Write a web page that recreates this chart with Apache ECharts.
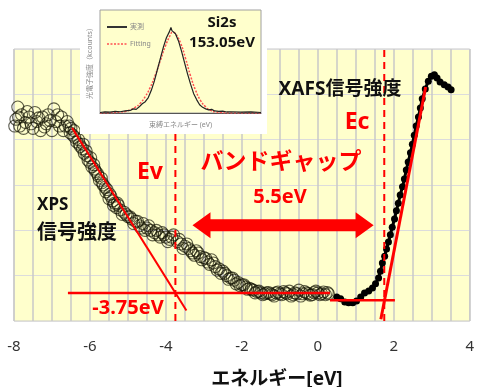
<!DOCTYPE html>
<html>
<head>
<meta charset="utf-8">
<script src="https://cdn.jsdelivr.net/npm/echarts@6/dist/echarts.min.js"></script>
<style>
  html, body { margin: 0; padding: 0; background: #fff; }
  #chart { width: 477px; height: 387px; }
</style>
</head>
<body>
<div id="chart"></div>
<script>
// 主グラフ: XPS (白抜き丸) と XAFS (黒丸)
const xpsPoints = [
  [-7.95, 4.45], [-7.9, 4.72], [-7.85, 4.3], [-7.8, 4.55], [-7.7, 4.38], [-7.6, 4.5],
  [-7.5, 4.25], [-7.45, 4.6], [-7.4, 4.4], [-7.3, 4.2], [-7.25, 4.5], [-7.15, 4.35],
  [-7.1, 4.55], [-7.0, 4.2], [-6.95, 4.68], [-6.9, 4.4], [-6.8, 4.3], [-6.75, 4.5],
  [-6.7, 4.2], [-6.6, 4.4], [-6.55, 4.3], [-6.5, 4.25], [-6.45, 4.1], [-6.4, 4.05],
  [-6.35, 3.95], [-6.3, 4.0], [-6.25, 3.85], [-6.2, 3.8], [-6.15, 3.7], [-6.1, 3.75],
  [-6.05, 3.55], [-6.0, 3.5], [-5.95, 3.4], [-5.9, 3.45], [-5.85, 3.3], [-5.8, 3.25],
  [-5.75, 3.1], [-5.7, 3.15], [-5.65, 3.0], [-5.6, 2.95], [-5.55, 2.9], [-5.5, 2.7],
  [-5.45, 2.75], [-5.4, 2.65], [-5.35, 2.6], [-5.3, 2.5], [-5.25, 2.55], [-5.2, 2.45],
  [-5.1, 2.4], [-5.05, 2.35], [-5.0, 2.3], [-4.9, 2.25], [-4.85, 2.15], [-4.8, 2.2],
  [-4.7, 2.1], [-4.6, 2.15], [-4.55, 2.0], [-4.5, 2.05], [-4.4, 2.0], [-4.3, 1.95],
  [-4.2, 1.9], [-4.1, 1.95], [-4.0, 1.85], [-3.9, 1.8], [-3.8, 1.9], [-3.7, 1.75],
  [-3.6, 1.7], [-3.5, 1.65], [-3.4, 1.6], [-3.3, 1.5], [-3.2, 1.55], [-3.1, 1.42],
  [-3.0, 1.4], [-2.9, 1.3], [-2.8, 1.35], [-2.7, 1.2], [-2.6, 1.15], [-2.5, 1.1],
  [-2.4, 1.0], [-2.3, 0.95], [-2.2, 0.9], [-2.1, 0.85], [-2.0, 0.8], [-1.9, 0.75],
  [-1.8, 0.72], [-1.7, 0.68], [-1.6, 0.65], [-1.5, 0.62], [-1.4, 0.6], [-1.3, 0.63],
  [-1.2, 0.58], [-1.1, 0.62], [-1.0, 0.6], [-0.9, 0.65], [-0.8, 0.6], [-0.7, 0.55],
  [-0.6, 0.62], [-0.5, 0.68], [-0.4, 0.6], [-0.3, 0.62], [-0.2, 0.57], [-0.1, 0.63],
  [0.0, 0.62], [0.1, 0.6], [0.2, 0.58], [0.25, 0.63],
  [-7.98, 4.3], [-7.88, 4.5], [-7.75, 4.25], [-7.65, 4.62], [-7.55, 4.35], [-7.35, 4.48],
  [-7.2, 4.28], [-7.05, 4.42], [-6.85, 4.55], [-6.65, 4.3], [-6.52, 4.15], [-6.42, 4.2],
  [-6.28, 3.9], [-6.18, 3.9], [-6.08, 3.65], [-5.98, 3.6], [-5.88, 3.35], [-5.78, 3.2],
  [-5.68, 3.05], [-5.58, 2.85], [-5.48, 2.8], [-5.38, 2.55], [-5.28, 2.6], [-5.15, 2.35],
  [-4.95, 2.3], [-4.75, 2.2], [-4.65, 2.05], [-4.45, 2.1], [-4.35, 1.9], [-4.25, 2.0],
  [-4.15, 1.85], [-4.05, 1.9], [-3.95, 1.75], [-3.85, 1.85], [-3.65, 1.8], [-3.55, 1.6],
  [-3.45, 1.7], [-3.35, 1.55], [-3.25, 1.45], [-3.15, 1.5], [-3.05, 1.35], [-2.95, 1.38],
  [-2.85, 1.25], [-2.75, 1.28], [-2.65, 1.12], [-2.55, 1.05], [-2.45, 1.05], [-2.35, 0.92],
  [-2.25, 0.95], [-2.15, 0.82], [-2.05, 0.78], [-1.95, 0.8], [-1.85, 0.7], [-1.75, 0.7],
  [-1.65, 0.62], [-1.55, 0.66], [-1.45, 0.58], [-1.35, 0.62], [-1.25, 0.6], [-1.15, 0.55],
  [-1.05, 0.64], [-0.95, 0.58], [-0.85, 0.62], [-0.75, 0.66], [-0.65, 0.58], [-0.55, 0.6],
  [-0.45, 0.55], [-0.35, 0.65], [-0.25, 0.6], [-0.15, 0.58], [-0.05, 0.66], [0.05, 0.58],
  [0.15, 0.64], [0.28, 0.6]
]
const xafsPoints = [
  [0.50, 0.53], [0.60, 0.49], [0.71, 0.42], [0.81, 0.40], [0.92, 0.40], [1.02, 0.44],
  [1.13, 0.53], [1.23, 0.62], [1.34, 0.66], [1.44, 0.73], [1.52, 0.82], [1.60, 0.95],
  [1.65, 1.10], [1.70, 1.28], [1.76, 1.43], [1.81, 1.59], [1.86, 1.74], [1.91, 1.90],
  [1.96, 2.07], [2.02, 2.25], [2.07, 2.43], [2.12, 2.60], [2.17, 2.78], [2.23, 2.96],
  [2.28, 3.13], [2.33, 3.33], [2.38, 3.51], [2.44, 3.71], [2.49, 3.90], [2.54, 4.10],
  [2.59, 4.30], [2.65, 4.50], [2.70, 4.70], [2.75, 4.90], [2.83, 5.12], [2.91, 5.29],
  [2.99, 5.40], [3.07, 5.43], [3.14, 5.36], [3.22, 5.27], [3.33, 5.21], [3.43, 5.16],
  [3.51, 5.10]
]
// 赤い補助線
const xpsBaseline = [[-6.58, 0.62], [0.32, 0.62]]
const xpsTangent = [[-6.47, 4.26], [-3.46, 0.23]]
const xafsBaseline = [[0.32, 0.46], [2.03, 0.46]]
const xafsTangent = [[1.66, 0.04], [2.84, 5.16]]
const evLine = [[-3.75, 0], [-3.75, 6]]
const ecLine = [[1.75, 0], [1.75, 6]]
const gapArrow = [[-3.30, 2.11, 1.47]] // 左端x, y, 右端x
const xTickLabels = [-8, -6, -4, -2, 0, 2, 4]

// 挿入図: Si2s ピーク
const si2sMeasured = [
  [146.0, 0.05], [146.5, 0.1], [147.0, 0.08], [147.5, 0.15], [148.0, 0.12], [148.5, 0.2],
  [149.0, 0.25], [149.3, 0.4], [149.6, 0.35], [149.9, 0.6], [150.2, 0.9], [150.5, 1.1],
  [150.8, 1.5], [151.1, 2.2], [151.4, 3.1], [151.7, 4.2], [152.0, 5.3], [152.3, 6.4],
  [152.6, 7.3], [152.9, 7.9], [153.05, 8.3], [153.15, 8.0], [153.3, 8.1], [153.5, 7.7],
  [153.8, 7.0], [154.1, 6.0], [154.4, 4.9], [154.7, 3.8], [155.0, 2.8], [155.3, 1.9],
  [155.6, 1.3], [155.9, 0.8], [156.2, 0.55], [156.5, 0.4], [156.8, 0.3], [157.1, 0.35],
  [157.4, 0.2], [157.8, 0.15], [158.2, 0.18], [158.6, 0.1], [159.0, 0.12], [160.0, 0.08],
  [161.0, 0.1], [162.0, 0.05]
]
const si2sFitting = [
  [146, 0], [147, 0.02], [148, 0.08], [148.5, 0.15], [149, 0.3], [149.5, 0.55],
  [150, 0.95], [150.5, 1.6], [151, 2.5], [151.5, 3.7], [152, 5.1], [152.5, 6.5],
  [153, 7.6], [153.2, 7.85], [153.5, 7.7], [154, 6.8], [154.5, 5.3], [155, 3.6],
  [155.5, 2.2], [156, 1.2], [156.5, 0.6], [157, 0.25], [157.5, 0.1], [158, 0.04],
  [159, 0], [162, 0]
]

const FONT = "'Noto Sans', 'Noto Sans CJK JP', sans-serif"
const RED = '#ff0000'

const chart = echarts.init(document.getElementById('chart'))

const redLine = (data, width, extra) => ({
  type: 'line',
  data,
  symbol: 'none',
  silent: true,
  z: 5,
  lineStyle: Object.assign({ color: RED, width }, extra || {})
})

const label = (text, x, y, size, color, weight, align) => ({
  type: 'text',
  x, y,
  z: 50,
  style: {
    text,
    font: `${weight || 'bold'} ${size}px ${FONT}`,
    fill: color,
    align: align || 'center',
    verticalAlign: 'middle'
  }
})

// 挿入図の凡例 (線 + 文字)
const legendLine = (y, color, dash) => ({
  type: 'line',
  z: 30,
  shape: { x1: 107, y1: y, x2: 127, y2: y },
  style: { stroke: color, lineWidth: dash ? 1.5 : 2, lineDash: dash || null }
})

const option = {
  animation: false,
  backgroundColor: '#fff',
  grid: [
    {
      left: 14, right: 5, top: 49, bottom: 66,
      show: true,
      backgroundColor: '#ffffcc',
      borderColor: '#c8c8c8',
      borderWidth: 1
    },
    {
      left: 100, top: 10, width: 161, height: 103,
      show: true,
      backgroundColor: '#ffffcc',
      borderColor: '#a0a0a0',
      borderWidth: 1,
      z: 11
    }
  ],
  xAxis: [
    {
      type: 'value', min: -8, max: 4, interval: 0.5,
      axisLine: { show: false },
      axisTick: { show: false },
      axisLabel: {
        margin: 18,
        fontSize: 15,
        color: '#333',
        fontFamily: FONT,
        formatter: v => (xTickLabels.includes(v) ? String(v) : '')
      },
      splitLine: { lineStyle: { color: '#c8c8c8', width: 1.5 } }
    },
    {
      type: 'value', gridIndex: 1, min: 146, max: 162,
      z: 12,
      axisLine: { show: true, onZero: false, lineStyle: { color: '#555' } },
      axisTick: { show: false },
      axisLabel: { show: false },
      splitLine: { show: false },
      name: '束縛エネルギー (eV)',
      nameLocation: 'middle',
      nameGap: 9,
      nameTextStyle: { fontSize: 7, color: '#888', fontFamily: FONT }
    }
  ],
  yAxis: [
    {
      type: 'value', min: 0, max: 6, interval: 1,
      axisLine: { show: false },
      axisTick: { show: false },
      axisLabel: { show: false },
      splitLine: { lineStyle: { color: '#dcdcdc', width: 1 } }
    },
    {
      type: 'value', gridIndex: 1, min: 0, max: 10,
      z: 12,
      axisLine: { show: false },
      axisTick: { show: false },
      axisLabel: { show: false },
      splitLine: { show: false },
      name: '光電子強度（kcounts）',
      nameLocation: 'middle',
      nameGap: 7,
      nameRotate: 90,
      nameTextStyle: { fontSize: 7, color: '#888', fontFamily: FONT }
    }
  ],
  graphic: [
    { type: 'rect', shape: { x: 80, y: 0, width: 187, height: 134 }, style: { fill: '#fff' }, z: 10 },
    legendLine(27, '#333'),
    legendLine(44, '#ff5050', [2, 1.5]),
    label('実測', 130, 27, 7, '#888', 'normal', 'left'),
    label('Fitting', 130, 44, 7, '#888', 'normal', 'left'),
    label('Si2s', 222, 23, 15, '#111'),
    label('153.05eV', 222, 43, 15, '#111'),
    label('XAFS信号強度', 340, 90, 19, '#111'),
    label('Ec', 357, 122, 23, RED),
    label('Ev', 150, 172, 23, RED),
    label('バンドギャップ', 281, 162, 23, RED),
    label('5.5eV', 280, 197, 20, RED),
    label('XPS', 37, 205, 17, '#111', 'bold', 'left'),
    label('信号強度', 37, 233, 20, '#111', 'bold', 'left'),
    label('-3.75eV', 128, 308, 20, RED),
    label('エネルギー[eV]', 277, 380, 19, '#111')
  ],
  series: [
    {
      name: 'XPS',
      type: 'scatter',
      data: xpsPoints,
      symbol: 'circle',
      symbolSize: 12,
      z: 2,
      itemStyle: { color: 'rgba(0,0,0,0)', borderColor: 'rgba(20,20,5,0.85)', borderWidth: 1.1 }
    },
    {
      name: 'XAFS',
      type: 'line',
      data: xafsPoints,
      symbol: 'circle',
      symbolSize: 7,
      showAllSymbol: true,
      z: 3,
      lineStyle: { color: '#000', width: 3 },
      itemStyle: { color: '#000' }
    },
    redLine(evLine, 2, { type: [7, 5] }),
    redLine(ecLine, 2, { type: [7, 5] }),
    redLine(xpsBaseline, 2.5),
    redLine(xpsTangent, 2),
    redLine(xafsBaseline, 2.5),
    redLine(xafsTangent, 3),
    {
      type: 'custom',
      data: gapArrow,
      encode: { x: [0, 2], y: 1 },
      z: 6,
      silent: true,
      renderItem: (params, api) => {
        const a = api.coord([api.value(0), api.value(1)])
        const b = api.coord([api.value(2), api.value(1)])
        const y = a[1], hw = 6, hh = 13, hl = 18
        return {
          type: 'polygon',
          shape: {
            points: [
              [a[0], y], [a[0] + hl, y - hh], [a[0] + hl, y - hw],
              [b[0] - hl, y - hw], [b[0] - hl, y - hh], [b[0], y],
              [b[0] - hl, y + hh], [b[0] - hl, y + hw], [a[0] + hl, y + hw],
              [a[0] + hl, y + hh]
            ]
          },
          style: { fill: RED }
        }
      }
    },
    {
      name: 'Fitting',
      type: 'line',
      xAxisIndex: 1, yAxisIndex: 1,
      data: si2sFitting,
      symbol: 'none',
      smooth: true,
      z: 13,
      lineStyle: { color: '#ff5050', width: 1.5, type: [2, 1.5] }
    },
    {
      name: '実測',
      type: 'line',
      xAxisIndex: 1, yAxisIndex: 1,
      data: si2sMeasured,
      symbol: 'none',
      z: 13,
      lineStyle: { color: '#222', width: 1.2 }
    }
  ]
}

chart.setOption(option)
</script>
</body>
</html>
